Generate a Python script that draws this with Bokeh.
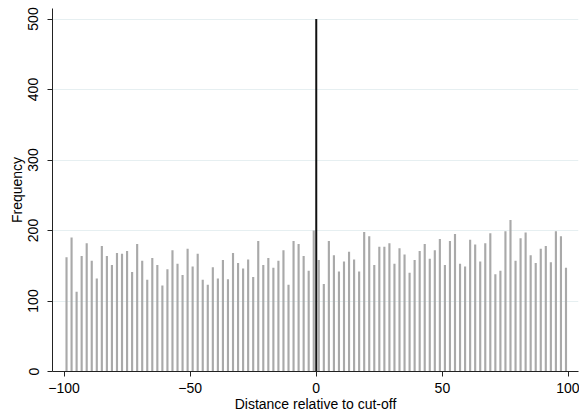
from bokeh.plotting import figure
from bokeh.models import Range1d, FixedTicker
from bokeh.embed import file_html
from bokeh.resources import INLINE

# Bin centres (distance relative to cut-off), bin width 2
bins = list(range(-99, 100, 2))
freq = [
    162, 190, 113, 164, 182, 157, 132, 178, 164, 151,   # -99 .. -81
    168, 167, 171, 141, 181, 157, 130, 161, 151, 122,   # -79 .. -61
    145, 172, 153, 137, 174, 149, 167, 130, 123, 148,   # -59 .. -41
    132, 158, 131, 168, 154, 146, 159, 134, 185, 151,   # -39 .. -21
    161, 147, 157, 172, 123, 185, 181, 164, 143, 200,   # -19 .. -1
    158, 124, 185, 165, 142, 156, 170, 159, 142, 198,   # 1 .. 19
    192, 151, 177, 177, 182, 153, 175, 166, 140, 158,   # 21 .. 39
    171, 181, 160, 172, 188, 151, 185, 195, 153, 149,   # 41 .. 59
    187, 180, 156, 182, 196, 138, 143, 199, 215, 157,   # 61 .. 79
    189, 197, 165, 154, 174, 178, 155, 199, 192, 147,   # 81 .. 99
]
x_ticks = [-100, -50, 0, 50, 100]
y_ticks = [0, 100, 200, 300, 400, 500]
cutoff = 0
cutoff_line = [0, 500]

FONT = "Liberation Sans"

p = figure(width=579, height=419, output_backend="svg", toolbar_location=None,
           x_range=Range1d(-104.56, 103.96), y_range=Range1d(0, 514.9),
           min_border_left=52, min_border_right=1, min_border_top=8, min_border_bottom=48)
p.outline_line_color = None

p.vbar(x=bins, top=freq, width=0.85, bottom=0, fill_color="#a9a9a9", line_color=None)

p.segment(x0=[cutoff], y0=[cutoff_line[0]], x1=[cutoff], y1=[cutoff_line[1]],
          line_color="#111111", line_width=2)

# grid
p.xgrid.grid_line_color = None
p.ygrid.ticker = FixedTicker(ticks=[100, 200, 300, 400, 500])
p.ygrid.grid_line_color = "#e6eff1"
p.ygrid.grid_line_width = 1

# axes
for ax in (p.xaxis[0], p.yaxis[0]):
    ax.axis_line_color = "#222222"
    ax.major_tick_line_color = "#222222"
    ax.minor_tick_line_color = None
    ax.major_tick_in = 0
    ax.major_tick_out = 5
    ax.major_label_text_font = FONT
    ax.major_label_text_font_size = "14px"
    ax.major_label_text_color = "#000000"
    ax.axis_label_text_font = FONT
    ax.axis_label_text_font_size = "14px"
    ax.axis_label_text_font_style = "normal"
    ax.axis_label_text_color = "#000000"

p.xaxis.ticker = FixedTicker(ticks=x_ticks)
p.yaxis.ticker = FixedTicker(ticks=y_ticks)
p.xaxis.axis_label = "Distance relative to cut-off"
p.yaxis.axis_label = "Frequency"
p.yaxis.major_label_orientation = "parallel"
p.yaxis.major_label_standoff = 9
p.yaxis.axis_label_standoff = 1
p.xaxis.major_label_standoff = 6
p.xaxis.axis_label_standoff = 0

open("out.html", "w").write(file_html(p, INLINE))
